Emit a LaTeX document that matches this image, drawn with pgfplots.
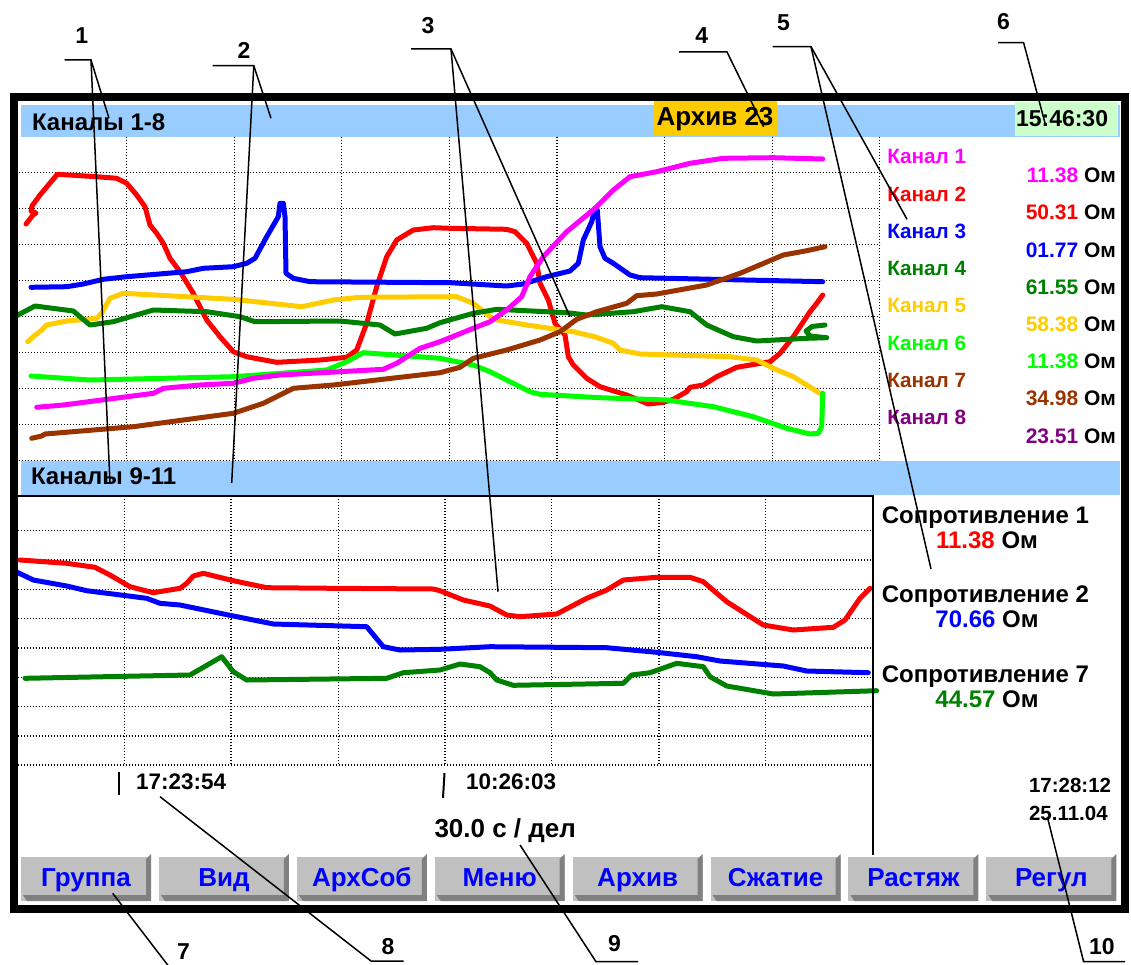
\documentclass[border=0pt]{standalone}
\usepackage{fontspec}
\setmainfont{Liberation Sans}
\usepackage{pgfplots}
\pgfplotsset{compat=1.18}

\definecolor{barblue}{HTML}{99CCFF}
\definecolor{archbox}{HTML}{FFCC00}
\definecolor{timebox}{HTML}{CCFFCC}
\definecolor{ch1}{HTML}{FF00FF}
\definecolor{ch2}{HTML}{FF0000}
\definecolor{ch3}{HTML}{0000FF}
\definecolor{ch4}{HTML}{008000}
\definecolor{ch5}{HTML}{FFCC00}
\definecolor{ch6}{HTML}{00FF00}
\definecolor{ch7}{HTML}{993300}
\definecolor{ch8}{HTML}{800080}
\definecolor{btn}{HTML}{C0C0C0}
\definecolor{btnsh}{HTML}{808080}

\newcommand\fs[1]{\fontsize{#1}{#1}\selectfont\bfseries}

\pgfplotsset{
  screen/.style={
    scale only axis,
    xticklabels={}, yticklabels={},
    major tick length=0pt,
    grid=major,
    grid style={black, line width=1.3pt, dash pattern=on 1.3pt off 1.7pt},
    axis line style={draw=none},
    y dir=reverse,
    clip=false,
    every axis plot/.append style={line width=5pt, line join=round, line cap=round},
  },
}

\begin{document}
\begin{tikzpicture}[x=1pt,y=-1pt,every node/.style={inner sep=0pt,outer sep=0pt}]
\path[use as bounding box] (0,0) rectangle (1131,965);

% header bars
\fill[barblue] (21,105) rectangle (1120,136.7);
\fill[barblue] (21,460.7) rectangle (1120,495);
\fill[archbox] (653.8,99) rectangle (776.7,135);
\fill[timebox] (1014.5,101.7) rectangle (1118,135.7);

% channels 1-8
\begin{axis}[screen,
  at={(19,136.7)}, anchor=north west,
  width=861pt, height=324pt,
  xmin=19, xmax=880, ymin=136.7, ymax=460.7,
  xtick={126.6,234.2,341.8,449.4,557,664.6,772.2,879.8},
  ytick={172.7,208.7,244.7,280.7,316.7,352.7,388.7,424.7,460.7},
]
% channel 2
\addplot[ch2] coordinates {
(26,224) (33,215) (36,213) (31,211) (32,206) (40,195) (57.3,174.3) (96.7,176.7)
(116.7,178.3) (126.7,183.3) (136.7,195) (145,206.7) (150,225) (156.7,233.3)
(163.3,243.3) (170,258.3) (180,271.7) (193.3,293.3) (206.7,320) (220,336.7)
(233.3,351.7) (246.7,356.7) (276.7,362.3) (320,360) (346.7,357.3) (356.7,350)
(366.7,323.3) (376.7,286.7) (386.7,256.7) (396.7,240) (413.3,230) (433.3,227.7)
(450,228.3) (506.7,229.3) (515,231.7) (526.7,243.3) (536.7,263.3) (540,283.3)
(548.3,300) (555,323.3) (565,335) (568.3,356.7) (573.3,365) (586.7,378.3)
(600,386.7) (626.7,395) (648.3,404) (663.3,402.3) (673.3,399.3) (686.7,391.7)
(690,387.3) (703.3,385) (716.7,376.7) (736.7,367.3) (770,361.7) (780,353.3)
(793.3,336.7) (810,311.7) (816.7,303.3) (822.7,295)
};
% channel 3
\addplot[ch3] coordinates {
(31,287.3) (66.7,286.7) (83.3,284) (103.3,279.3) (126.7,276.7) (186.7,271.7)
(203.3,268.3) (233.3,266.7) (246.7,263.3) (255,258.3) (266.7,236.7) (278.3,216.7)
(280,203.3) (283.3,203.3) (285,216.7) (286,273.3) (293.3,278.3) (310,281.7)
(450,282.7) (506.7,286) (523.3,284) (546.7,276.7) (570,271) (578.3,263.3)
(583.3,240) (591.7,221.7) (595,208.3) (597.3,210) (600,246.7) (605,258.3)
(613.3,263.3) (630,275) (640,277.7) (822.7,281.7)
};
% channel 5
\addplot[ch5] coordinates {
(27.7,341.7) (33.3,336.7) (41.7,330) (46.7,325) (66.7,321) (96.7,318.3)
(101.7,313.3) (110,298.3) (123.3,293.3) (233.3,299.3) (301.7,306.7) (333.3,300)
(360,297.3) (456.7,296.7) (473.3,303.3) (493.3,319.3) (526.7,325) (573.3,331.7)
(596.7,337.3) (613.3,343.3) (620,350) (640,354) (730,356.7) (756.7,360)
(773.3,368.3) (793.3,376.7) (822.7,395)
};
% channel 4
\addplot[ch4] coordinates {
(16,316) (35,306) (73.3,311) (80,316.7) (90,325) (113.3,321.7) (153.3,310)
(206.7,311.7) (240,316.7) (255,321.7) (340,321) (380,325) (395,334) (426.7,328.3)
(440,322.7) (473.3,313.3) (496.7,309.3) (566.7,312.7) (586.7,315) (633.3,311.7)
(661.7,306.7) (690,311.7) (706.7,325) (733.3,336.7) (756.7,341) (806.7,338.3)
(826.7,337.7) (810,336) (806,331) (812,326.5) (825,325)
};
% channel 6
\addplot[ch6] coordinates {
(31,376) (90,380) (233.3,376.7) (326.7,370) (346.7,361.7) (363.3,352.7)
(440,358.3) (473.3,365) (490,371.7) (530,391.7) (540,394.3) (600,397.7)
(666.7,400) (713.3,406.7) (753.3,416.7) (786.7,428.3) (810,434) (818.3,433.3)
(821.7,426.7) (822.7,393.3)
};
% channel 1
\addplot[ch1] coordinates {
(36.7,407.3) (63.3,405) (153.3,393.3) (163.3,388.3) (200,385) (233.3,383.3)
(253.3,378.3) (280,375) (383.3,369.3) (396.7,363.3) (420,348.3) (440,341.7)
(473.3,328.3) (490,321.7) (506.7,310) (521.7,296.7) (530,276.7) (543.3,256.7)
(566.7,231.7) (595,208.3) (613.3,190) (630,176.7) (656.7,171.7) (690,163.3)
(723.3,158.3) (773.3,157.7) (822.7,159)
};
% channel 7
\addplot[ch7] coordinates {
(31.7,438.3) (41.7,436) (45,434) (133.3,426.7) (233.3,413.3) (263.3,403.3)
(280,395) (293.3,388.3) (333.3,385) (440,372.7) (460,367.3) (473.3,358.3)
(506.7,350) (540,340) (560,331.7) (576.7,319.3) (596.7,311.7) (626.7,303.3)
(636.7,295.7) (656.7,294) (706.7,285) (740,273.3) (783.3,255) (806.7,250.7)
(825,246.7)
};
\end{axis}

% channels 9-11
\begin{axis}[screen,
  at={(17.6,496)}, anchor=north west,
  width=855.4pt, height=269pt,
  xmin=17.6, xmax=873, ymin=496, ymax=765,
  xtick={124.3,231,338.3,445,551.7,659,765.7},
  ytick={530.7,560,589.3,618.7,648,677.7,706.7,736,765},
]
\addplot[ch2] coordinates {
(20,560) (66.7,563.3) (95,567.3) (110,575) (130,586.7) (153.3,592.7) (180,588.3)
(186.7,583.3) (193.3,576) (203.3,573.3) (233.3,580.7) (266.7,587.7) (333.3,588.3)
(433.3,589) (440,590.7) (463.3,600) (490,606) (506.7,615) (520,616.7) (556.7,614)
(586.7,598.3) (606.7,590) (623.3,580) (656.7,577.3) (690,577.3) (703.3,581.7)
(726.7,601.7) (763.3,625) (793.3,630) (833.3,627.3) (845,620) (860,598.3) (870,588.3)
};
\addplot[ch3] coordinates {
(16,571.7) (33.3,580) (66.7,586) (86.7,590.7) (146.7,598.3) (160,603.3) (180,605)
(233.3,616) (273.3,624) (366.7,626.7) (383.3,646.7) (400,650) (440,649.3)
(490,646.7) (606.7,647.7) (656.7,652.3) (696.7,656.7) (720,661) (783.3,666)
(806.7,671) (868.3,672.7)
};
\addplot[ch4] coordinates {
(25,678.3) (190,675) (221.7,656.7) (233.3,671.7) (246.7,680) (386.7,678.3)
(403.3,672.7) (440,670) (460,664) (480,666.7) (490,672.7) (496.7,680)
(513.3,685.3) (623.3,683.3) (631.7,675) (650,672.7) (676.7,663.3) (703.3,666.7)
(710,676.7) (726.7,686) (773.3,694) (876.7,690.7)
};
\end{axis}

% lower plot frame
\draw[line width=2pt] (18,496) -- (873,496) -- (873,855);

% outer frame
\draw[line width=8pt] (14,96.7) rectangle (1125,908.5);

% header texts
\node[anchor=base west,font=\fs{24}] at (32,130.3) {Каналы 1-8};
\node[anchor=base,font=\fs{26}] at (715,126) {Архив 23};
\node[anchor=base west,font=\fs{23}] at (1016,126.7) {15:46:30};
\node[anchor=base west,font=\fs{24}] at (31,484) {Каналы 9-11};

% channel list
\node[anchor=base west,font=\fs{20.7},text=ch1] at (887.3,164) {Канал 1};
\node[anchor=base west,font=\fs{20.7},text=ch2] at (887.3,201.2) {Канал 2};
\node[anchor=base west,font=\fs{20.7},text=ch3] at (887.3,238.4) {Канал 3};
\node[anchor=base west,font=\fs{20.7},text=ch4] at (887.3,275.6) {Канал 4};
\node[anchor=base west,font=\fs{20.7},text=ch5] at (887.3,312.8) {Канал 5};
\node[anchor=base west,font=\fs{20.7},text=ch6] at (887.3,350) {Канал 6};
\node[anchor=base west,font=\fs{20.7},text=ch7] at (887.3,387.2) {Канал 7};
\node[anchor=base west,font=\fs{20.7},text=ch8] at (887.3,424.4) {Канал 8};
\node[anchor=base east,font=\fs{21}] at (1116,182.7) {\textcolor{ch1}{11.38} Ом};
\node[anchor=base east,font=\fs{21}] at (1116,219.9) {\textcolor{ch2}{50.31} Ом};
\node[anchor=base east,font=\fs{21}] at (1116,257.1) {\textcolor{ch3}{01.77} Ом};
\node[anchor=base east,font=\fs{21}] at (1116,294.3) {\textcolor{ch4}{61.55} Ом};
\node[anchor=base east,font=\fs{21}] at (1116,331.5) {\textcolor{ch5}{58.38} Ом};
\node[anchor=base east,font=\fs{21}] at (1116,368.7) {\textcolor{ch6}{11.38} Ом};
\node[anchor=base east,font=\fs{21}] at (1116,405.9) {\textcolor{ch7}{34.98} Ом};
\node[anchor=base east,font=\fs{21}] at (1116,443.1) {\textcolor{ch8}{23.51} Ом};

% lower readouts
\node[anchor=base,font=\fs{24}] at (985.4,523.3) {Сопротивление 1};
\node[anchor=base,font=\fs{24}] at (987,548.3) {\textcolor{ch2}{11.38} Ом};
\node[anchor=base,font=\fs{24}] at (985.4,602.7) {Сопротивление 2};
\node[anchor=base,font=\fs{24}] at (987,627.7) {\textcolor{ch3}{70.66} Ом};
\node[anchor=base,font=\fs{24}] at (985.4,682.7) {Сопротивление 7};
\node[anchor=base,font=\fs{24}] at (987,707.7) {\textcolor{ch4}{44.57} Ом};

% time marks
\draw[line width=2pt] (119,771.7) -- (119,795);
\draw[line width=2pt] (444.5,773) -- (443,798);
\node[anchor=base west,font=\fs{22.5}] at (136,789.3) {17:23:54};
\node[anchor=base west,font=\fs{22.5}] at (466,789.3) {10:26:03};
\node[anchor=base west,font=\fs{26}] at (434.5,837.3) {30.0 с / дел};
\node[anchor=base west,font=\fs{20.5}] at (1029,792.7) {17:28:12};
\node[anchor=base west,font=\fs{20.5}] at (1029,820) {25.11.04};

% buttons
\foreach \i/\t in {0/Группа,1/Вид,2/АрхСоб,3/Меню,4/Архив,5/Сжатие,6/Растяж,7/Регул}{
  \pgfmathsetmacro\xa{21+137.9*\i}
  \pgfmathsetmacro\xb{\xa+130}
  \fill[btn] (\xa,856.7) rectangle (\xb,901);
  \fill[btnsh] (\xa+2,895) -- (\xb-5,895) -- (\xb-5,859) -- (\xb,854) -- (\xb,901) -- (\xa+6,901) -- cycle;
  \node[anchor=base,font=\fs{26},text=ch3] at ({(\xa+\xb)/2},886.7) {\t};
}

% callouts
\begin{scope}[line width=1.5pt]
\draw (64.7,60) -- (91,60) -- (109,118.3);
\draw (91,60) -- (110,483);
\draw (212.7,65.7) -- (253.8,65.7) -- (271,118.3);
\draw (253.8,65.7) -- (231.7,483);
\draw (411,49) -- (451,49) -- (498,591.7);
\draw (451,49) -- (570,316.7);
\draw (679,52) -- (727,52) -- (763.6,126.7);
\draw (772.7,46.7) -- (811,46.7) -- (907,219.3);
\draw (811,46.7) -- (931,569);
\draw (998,42.7) -- (1023.6,42.7) -- (1045.5,125);
\draw (112.7,893.3) -- (170,968);
\draw (160,796.7) -- (371,961) -- (403.6,961);
\draw (520,845) -- (596,961.7) -- (638,961.7);
\draw (1047.3,816.7) -- (1083.6,961.7) -- (1125,961.7);
\end{scope}
\node[anchor=base,font=\fs{23}] at (81.8,43.3) {1};
\node[anchor=base,font=\fs{23}] at (244,58.3) {2};
\node[anchor=base,font=\fs{23}] at (428,33.3) {3};
\node[anchor=base,font=\fs{23}] at (701.8,43.3) {4};
\node[anchor=base,font=\fs{23}] at (783.6,30.7) {5};
\node[anchor=base,font=\fs{23}] at (1003.6,29.3) {6};
\node[anchor=base,font=\fs{23}] at (183.6,959) {7};
\node[anchor=base,font=\fs{23}] at (388,954) {8};
\node[anchor=base,font=\fs{23}] at (614.5,951.7) {9};
\node[anchor=base,font=\fs{23}] at (1101.8,954) {10};
\end{tikzpicture}
\end{document}
